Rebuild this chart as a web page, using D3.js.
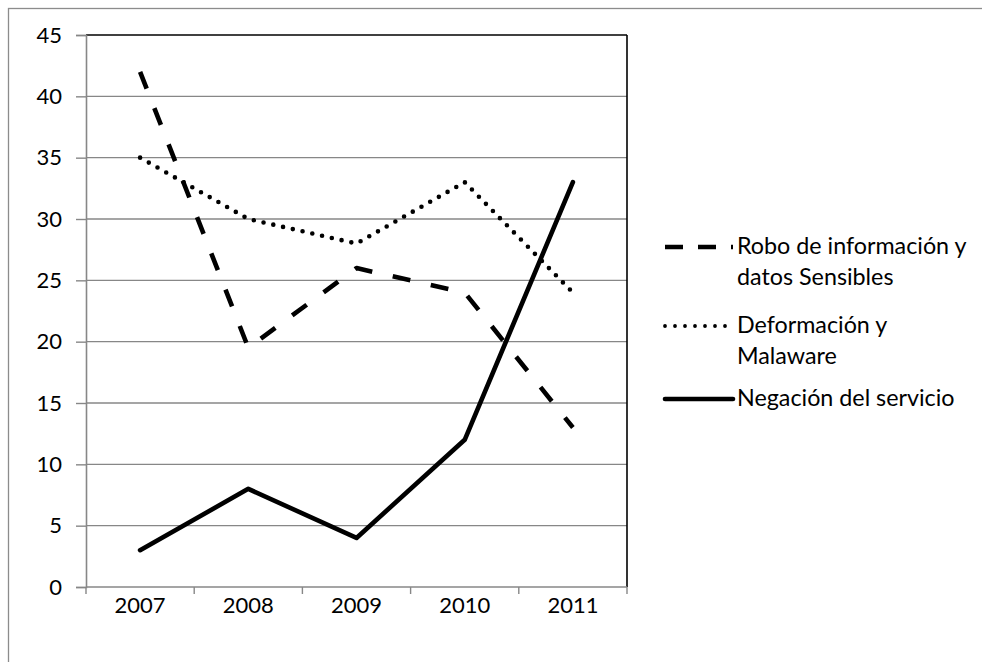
<!DOCTYPE html>
<html>
<head>
<meta charset="utf-8">
<script src="https://cdn.jsdelivr.net/npm/d3@7"></script>
<style>
  html, body { margin: 0; padding: 0; background: #fff; }
  svg { display: block; }
  text { font-family: Lato, "Open Sans", sans-serif; fill: #000; }
</style>
</head>
<body>
<svg id="chart" width="982" height="662"></svg>
<script>
// Incident counts per year
const years = ["2007", "2008", "2009", "2010", "2011"];
const robo = [42, 19.5, 26, 24, 13];
const deformacion = [35, 30, 28, 33, 24];
const negacion = [3, 8, 4, 12, 33];
const yTicks = [0, 5, 10, 15, 20, 25, 30, 35, 40, 45];

const seriesNames = ["Robo de información y|datos Sensibles", "Deformación y|Malaware", "Negación del servicio"];
const seriesValues = [robo, deformacion, negacion];
const seriesDash = ["18,21", "0,10", null];
const legendDash = ["18,15", "0,10", null];
const seriesCap = ["butt", "round", "round"];

const svg = d3.select("#chart");
const plot = { left: 86, right: 627, top: 35, bottom: 587 };

const x = d3.scaleBand().domain(years).range([plot.left, plot.right]).padding(0);
const y = d3.scaleLinear().domain([0, 45]).range([plot.bottom, plot.top]);

// outer frame of the chart object
svg.append("rect")
  .attr("x", 8.5).attr("y", 8.5)
  .attr("width", 1000).attr("height", 700)
  .attr("fill", "none").attr("stroke", "#8c8c8c").attr("stroke-width", 1.3);

// horizontal gridlines
svg.append("g").selectAll("line")
  .data(yTicks.filter(d => d > 0 && d < 45))
  .join("line")
  .attr("x1", plot.left).attr("x2", plot.right)
  .attr("y1", d => y(d)).attr("y2", d => y(d))
  .attr("stroke", "#878787").attr("stroke-width", 1.4);

// plot area border: top and right in black
svg.append("line")
  .attr("x1", plot.left).attr("x2", plot.right)
  .attr("y1", y(45)).attr("y2", y(45))
  .attr("stroke", "#000").attr("stroke-width", 1.6);
svg.append("line")
  .attr("x1", plot.right).attr("x2", plot.right)
  .attr("y1", plot.top).attr("y2", plot.bottom)
  .attr("stroke", "#000").attr("stroke-width", 1.6);

// y axis
const yAxis = d3.axisLeft(y).tickValues(yTicks).tickSize(10).tickPadding(14);
const gy = svg.append("g").attr("transform", `translate(${plot.left},0)`).call(yAxis);
gy.select(".domain").attr("stroke", "#878787").attr("stroke-width", 1.6);
gy.selectAll(".tick line").attr("stroke", "#878787").attr("stroke-width", 1.4);
gy.selectAll(".tick text").attr("font-size", 22).attr("font-family", "Lato, sans-serif").attr("fill", "#000");

// x axis with ticks on category boundaries
const gx = svg.append("g").attr("transform", `translate(0,${plot.bottom})`);
gx.append("line")
  .attr("x1", plot.left).attr("x2", plot.right)
  .attr("stroke", "#878787").attr("stroke-width", 1.6);
const bounds = years.map(d => x(d)).concat([x(years[years.length - 1]) + x.bandwidth()]);
gx.selectAll("line.tk").data(bounds).join("line").attr("class", "tk")
  .attr("x1", d => d).attr("x2", d => d).attr("y1", 0).attr("y2", 7)
  .attr("stroke", "#878787").attr("stroke-width", 1.4);
gx.selectAll("text").data(years).join("text")
  .attr("x", d => x(d) + x.bandwidth() / 2)
  .attr("y", 18)
  .attr("dy", "0.35em")
  .attr("text-anchor", "middle")
  .attr("font-size", 22)
  .text(d => d);

// series lines
const line = d3.line()
  .x((d, i) => x(years[i]) + x.bandwidth() / 2)
  .y(d => y(d));

svg.append("g").selectAll("path")
  .data(seriesValues)
  .join("path")
  .attr("d", d => line(d))
  .attr("fill", "none")
  .attr("stroke", "#000")
  .attr("stroke-width", 4.6)
  .attr("stroke-linejoin", "round")
  .attr("stroke-linecap", (d, i) => seriesCap[i])
  .attr("stroke-dasharray", (d, i) => seriesDash[i]);

// legend
const legendRows = [
  { sample: 247, lines: [246, 277] },
  { sample: 326, lines: [325, 356] },
  { sample: 399, lines: [398] }
];
const lg = svg.append("g");
legendRows.forEach((row, i) => {
  lg.append("line")
    .attr("x1", 665).attr("x2", 733)
    .attr("y1", row.sample).attr("y2", row.sample)
    .attr("stroke", "#000")
    .attr("stroke-width", i === 1 ? 3.8 : 4.6)
    .attr("stroke-linecap", seriesCap[i])
    .attr("stroke-dasharray", legendDash[i]);
  seriesNames[i].split("|").forEach((txt, j) => {
    lg.append("text")
      .attr("x", 737)
      .attr("y", row.lines[j])
      .attr("dy", "0.35em")
      .attr("font-size", 23.3)
      .text(txt);
  });
});
</script>
</body>
</html>
